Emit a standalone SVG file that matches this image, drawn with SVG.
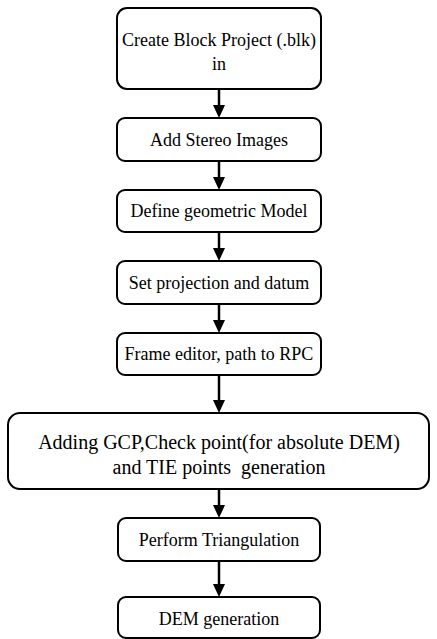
<svg xmlns="http://www.w3.org/2000/svg" width="437" height="639" viewBox="0 0 437 639">
<defs>
<style>
.box{fill:#fff;stroke:#000;stroke-width:2}
.t{font-family:'Liberation Serif','Times New Roman','DejaVu Serif',serif;font-size:18px;fill:#000;text-anchor:middle}
.c{stroke:#000;stroke-width:2.5;fill:none}
.h{fill:#000;stroke:none}
</style>
</defs>
<rect width="437" height="639" fill="#fff"/>
<g id="connectors">
<line class="c" x1="219" y1="89" x2="219" y2="106"/><polygon class="h" points="213,105 225,105 219,118"/>
<line class="c" x1="219" y1="161" x2="219" y2="178"/><polygon class="h" points="213,177 225,177 219,190"/>
<line class="c" x1="219" y1="232" x2="219" y2="249"/><polygon class="h" points="213,248 225,248 219,261"/>
<line class="c" x1="219" y1="304" x2="219" y2="321"/><polygon class="h" points="213,320 225,320 219,333"/>
<line class="c" x1="219" y1="375" x2="219" y2="401"/><polygon class="h" points="213,400 225,400 219,413"/>
<line class="c" x1="219" y1="489" x2="219" y2="506"/><polygon class="h" points="213,505 225,505 219,518"/>
<line class="c" x1="219" y1="561" x2="219" y2="585"/><polygon class="h" points="213,584 225,584 219,597"/>
</g>
<g id="n1"><rect class="box" x="117" y="8" width="204" height="81" rx="10"/><text class="t" x="219" y="46">Create Block Project (.blk)</text><text class="t" x="219" y="70">in</text></g>
<g id="n2"><rect class="box" x="117" y="118" width="204" height="43" rx="8"/><text class="t" x="219" y="146">Add Stereo Images</text></g>
<g id="n3"><rect class="box" x="117" y="190" width="204" height="42" rx="8"/><text class="t" x="219" y="217">Define geometric Model</text></g>
<g id="n4"><rect class="box" x="117" y="261" width="204" height="43" rx="8"/><text class="t" x="219" y="289">Set projection and datum</text></g>
<g id="n5"><rect class="box" x="117" y="333" width="204" height="42" rx="8"/><text class="t" x="219" y="360">Frame editor, path to RPC</text></g>
<g id="n6"><rect class="box" x="8" y="413" width="421" height="76" rx="12"/><text class="t" x="219" y="449" style="font-size:20px">Adding GCP,Check point(for absolute DEM)</text><text class="t" x="219" y="474" style="font-size:20px" xml:space="preserve">and TIE points  generation</text></g>
<g id="n7"><rect class="box" x="118" y="518" width="202" height="43" rx="8"/><text class="t" x="219" y="546">Perform Triangulation</text></g>
<g id="n8"><rect class="box" x="118" y="597" width="202" height="41" rx="8"/><text class="t" x="219" y="625">DEM generation</text></g>
</svg>
